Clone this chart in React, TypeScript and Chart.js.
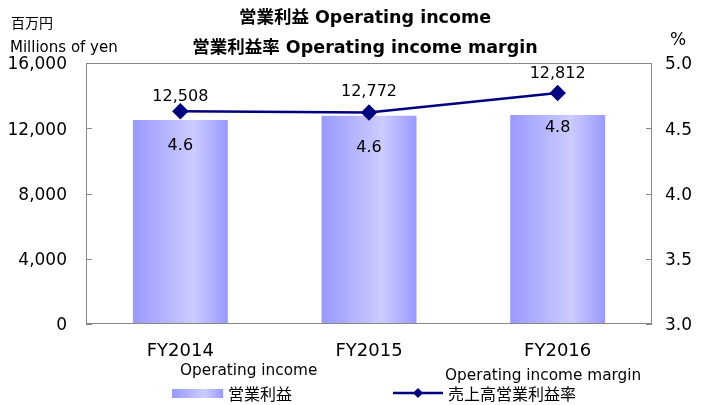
import React, { useEffect, useRef } from "react";
import { Chart, registerables } from "chart.js";

Chart.register(...registerables);

const categories = ["FY2014", "FY2015", "FY2016"];
const operatingIncome = [12508, 12772, 12812];
const operatingMargin = [4.63, 4.62, 4.77];
const leftTickValues = [0, 4000, 8000, 12000, 16000];
const rightTickValues = [3.0, 3.5, 4.0, 4.5, 5.0];

const titleLine1 = "営業利益 Operating income";
const titleLine2 = "営業利益率 Operating income margin";
const leftUnitJa = "百万円";
const leftUnitEn = "Millions of yen";
const rightUnit = "%";
const barLegendEn = "Operating income";
const barLegendJa = "営業利益";
const lineLegendEn = "Operating income margin";
const lineLegendJa = "売上高営業利益率";

// style: vertical lift (px) of the income labels above each line point
const incomeLabelLift = [14, 21, 19];

const NUM_FONT = "'DejaVu Sans'";
const CJK_FONT = "'Noto Sans CJK JP'";
const MIX_FONT = "'DejaVu Sans', 'Noto Sans CJK JP'";
const NAVY = "#000080";
const BAR_PCT = 0.503;

function barGradient(ctx: CanvasRenderingContext2D, x0: number, x1: number) {
  const g = ctx.createLinearGradient(x0, 0, x1, 0);
  g.addColorStop(0, "#9999ff");
  g.addColorStop(0.64, "#ccccff");
  g.addColorStop(1, "#9999ff");
  return g;
}

function barFill(c: any) {
  const chart = c.chart;
  const xs = chart.scales && chart.scales.x;
  if (!xs || !chart.chartArea || c.dataIndex === undefined) return "#b3b3ff";
  const cx = xs.getPixelForValue(c.dataIndex);
  const w = (chart.chartArea.width / categories.length) * BAR_PCT;
  return barGradient(chart.ctx, cx - w / 2, cx + w / 2);
}

const extrasPlugin = {
  id: "extras",
  afterDraw(chart: any) {
    const ctx: CanvasRenderingContext2D = chart.ctx;
    const { left, right, top, bottom } = chart.chartArea;
    ctx.save();
    // frame
    ctx.strokeStyle = "#888888";
    ctx.lineWidth = 1;
    ctx.strokeRect(Math.round(left) + 0.5, Math.round(top) + 0.5, Math.round(right - left) - 1, Math.round(bottom - top) - 1);
    // inward ticks
    const yL = chart.scales.y;
    const yR = chart.scales.y1;
    ctx.beginPath();
    leftTickValues.forEach((v) => {
      const p = Math.round(yL.getPixelForValue(v)) + 0.5;
      ctx.moveTo(left, p);
      ctx.lineTo(left + 6, p);
    });
    rightTickValues.forEach((v) => {
      const p = Math.round(yR.getPixelForValue(v)) + 0.5;
      ctx.moveTo(right - 6, p);
      ctx.lineTo(right, p);
    });
    ctx.stroke();

    // value labels relative to line points
    const lineMeta = chart.getDatasetMeta(1);
    ctx.fillStyle = "#000";
    ctx.textAlign = "center";
    ctx.textBaseline = "middle";
    ctx.font = `16px ${NUM_FONT}`;
    lineMeta.data.forEach((pt: any, i: number) => {
      ctx.fillText(operatingIncome[i].toLocaleString("en-US"), pt.x, pt.y - incomeLabelLift[i]);
      ctx.fillText(operatingMargin[i].toFixed(1), pt.x, pt.y + 35);
    });

    // titles
    ctx.font = `bold 17.5px ${MIX_FONT}`;
    ctx.fillText(titleLine1, 365, 18);
    ctx.fillText(titleLine2, 365, 48);

    // unit labels
    ctx.textAlign = "left";
    ctx.font = `14px ${CJK_FONT}`;
    ctx.fillText(leftUnitJa, 11, 23);
    ctx.font = `15px ${NUM_FONT}`;
    ctx.fillText(leftUnitEn, 10, 48);
    ctx.font = `17px ${NUM_FONT}`;
    ctx.fillText(rightUnit, 670, 41);

    // legend
    ctx.font = `15.3px ${NUM_FONT}`;
    ctx.fillText(barLegendEn, 180, 371);
    ctx.fillText(lineLegendEn, 445, 376);
    ctx.fillStyle = barGradient(ctx, 172, 223);
    ctx.fillRect(172, 389, 51, 9);
    ctx.fillStyle = "#000";
    ctx.font = `16px ${CJK_FONT}`;
    ctx.fillText(barLegendJa, 228, 394);
    ctx.fillText(lineLegendJa, 448, 394);
    ctx.strokeStyle = NAVY;
    ctx.lineWidth = 2.5;
    ctx.beginPath();
    ctx.moveTo(393, 393);
    ctx.lineTo(443, 393);
    ctx.stroke();
    ctx.fillStyle = NAVY;
    ctx.beginPath();
    ctx.moveTo(418, 388);
    ctx.lineTo(423, 393);
    ctx.lineTo(418, 398);
    ctx.lineTo(413, 393);
    ctx.closePath();
    ctx.fill();
    ctx.restore();
  },
};

export default function App() {
  const ref = useRef<HTMLCanvasElement | null>(null);
  useEffect(() => {
    document.body.style.margin = "0";
    if (!ref.current) return;
    const chart = new Chart(ref.current, {
      type: "bar",
      data: {
        labels: categories,
        datasets: [
          {
            type: "bar",
            label: barLegendJa,
            data: operatingIncome,
            backgroundColor: barFill,
            borderWidth: 0,
            yAxisID: "y",
            order: 2,
            categoryPercentage: 1,
            barPercentage: BAR_PCT,
          } as any,
          {
            type: "line",
            label: lineLegendJa,
            data: operatingMargin,
            borderColor: NAVY,
            backgroundColor: NAVY,
            borderWidth: 2.5,
            pointStyle: "rectRot",
            pointRadius: 6.5,
            pointBackgroundColor: NAVY,
            pointBorderColor: NAVY,
            yAxisID: "y1",
            order: 1,
          } as any,
        ],
      },
      options: {
        responsive: false,
        animation: false,
        devicePixelRatio: 1,
        layout: { padding: { top: 63, left: 0, right: 0, bottom: 0 } },
        plugins: { legend: { display: false }, tooltip: { enabled: false }, title: { display: false } },
        scales: {
          x: {
            grid: { display: false, drawTicks: false },
            border: { display: false },
            ticks: { color: "#000", font: { family: NUM_FONT, size: 18 }, padding: 17 },
            afterFit(s: any) {
              s.height = 81;
            },
          },
          y: {
            position: "left",
            min: 0,
            max: 16000,
            grid: { drawOnChartArea: false, drawTicks: false },
            border: { display: false },
            ticks: {
              stepSize: 4000,
              color: "#000",
              font: { family: NUM_FONT, size: 17 },
              padding: 19,
              labelOffset: 2,
              callback: (v: any) => Number(v).toLocaleString("en-US"),
            },
            afterFit(s: any) {
              s.width = 86;
            },
          },
          y1: {
            position: "right",
            min: 3,
            max: 5,
            grid: { drawOnChartArea: false, drawTicks: false },
            border: { display: false },
            ticks: {
              stepSize: 0.5,
              color: "#000",
              font: { family: NUM_FONT, size: 17 },
              padding: 13,
              labelOffset: 2,
              callback: (v: any) => Number(v).toFixed(1),
            },
            afterFit(s: any) {
              s.width = 50;
            },
          },
        },
      } as any,
      plugins: [extrasPlugin],
    });
    return () => chart.destroy();
  }, []);
  return (
    <div style={{ position: "absolute", left: 0, top: 0, width: 702, height: 405 }}>
      <canvas ref={ref} width={702} height={405} style={{ width: 702, height: 405, display: "block" }} />
    </div>
  );
}
